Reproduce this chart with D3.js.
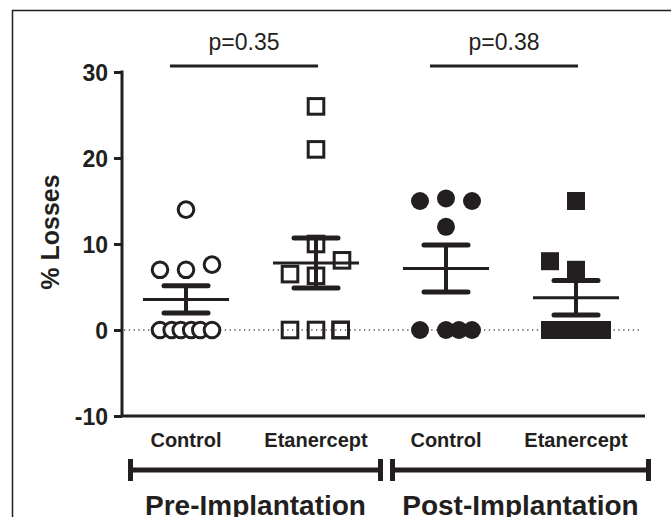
<!DOCTYPE html>
<html>
<head>
<meta charset="utf-8">
<script src="https://cdn.jsdelivr.net/npm/d3@7"></script>
<style>
  body { margin: 0; background: #fff; }
  svg { display: block; font-family: "Liberation Sans", Arial, sans-serif; }
</style>
</head>
<body>
<div id="chart"></div>
<script>
// values (% losses per animal)
const categories = ["Control", "Etanercept", "Control", "Etanercept"];
const phases = ["Pre-Implantation", "Post-Implantation"];
const pValues = ["p=0.35", "p=0.38"];
const yTicks = [-10, 0, 10, 20, 30];

const preControl = [14, 7, 7, 7.6, 0, 0, 0, 0, 0, 0];
const preEtanercept = [26, 21, 10, 8.1, 6.5, 6.3, 0, 0, 0, 0];
const postControl = [15, 15.3, 15, 12, 0, 0, 0, 0];
const postEtanercept = [15, 8, 7, 0, 0, 0, 0, 0];

// side-by-side slot of each point (how the scatter spreads equal values)
const preControlSlot = [0, -2, 0, 2, -2, -1.1, -0.4, 0.4, 1.1, 2];
const preEtanerceptSlot = [0, 0, 0, 2, -2, 0, -2, 0, 1.9, 1.9];
const postControlSlot = [-2, 0, 2, 0, -2, 0, 1, 2];
const postEtanerceptSlot = [0, -2, 0, -2, -1, 0, 1, 2];

const W = 671, H = 517;
const ink = "#231f20";

const groups = [
    {values: preControl, slot: preControlSlot, shape: "circle", filled: false},
    {values: preEtanercept, slot: preEtanerceptSlot, shape: "square", filled: false},
    {values: postControl, slot: postControlSlot, shape: "circle", filled: true},
    {values: postEtanercept, slot: postEtanerceptSlot, shape: "square", filled: true}
];

const svg = d3.select("#chart").append("svg")
    .attr("width", W)
    .attr("height", H);

// outer frame
svg.append("path")
    .attr("d", `M12.5,${H} V10.5 H${W}`)
    .attr("fill", "none")
    .attr("stroke", ink)
    .attr("stroke-width", 1.5);

const x = d3.scaleBand()
    .domain(d3.range(categories.length))
    .range([121, 641]);

const y = d3.scaleLinear()
    .domain([-10, 30])
    .range([416, 72]);

// y axis
const yAxis = svg.append("g")
    .attr("transform", "translate(122,0)")
    .call(d3.axisLeft(y).tickValues(yTicks).tickSize(8).tickPadding(6).tickFormat(d => String(d)));
yAxis.select(".domain").attr("stroke", ink).attr("stroke-width", 3).attr("d", `M0,${y(30) - 1.5}V${y(-10)}`);
yAxis.selectAll(".tick line").attr("stroke", ink).attr("stroke-width", 3);
yAxis.selectAll(".tick text")
    .attr("fill", ink)
    .attr("font-size", 23)
    .attr("font-weight", "bold")
    .attr("dy", "0.36em");

// x axis line
svg.append("line")
    .attr("x1", 122).attr("x2", 645)
    .attr("y1", y(-10)).attr("y2", y(-10))
    .attr("stroke", ink)
    .attr("stroke-width", 3);

// dotted zero line
svg.append("line")
    .attr("x1", 124).attr("x2", 642)
    .attr("y1", y(0)).attr("y2", y(0))
    .attr("stroke", "#555")
    .attr("stroke-width", 1.3)
    .attr("stroke-dasharray", "1.3,3.5");

svg.append("text")
    .attr("transform", "translate(59,232) rotate(-90)")
    .attr("text-anchor", "middle")
    .attr("font-size", 25)
    .attr("font-weight", "bold")
    .attr("fill", ink)
    .text("% Losses");

// category labels
svg.selectAll(".cat")
    .data(categories)
    .enter()
    .append("text")
    .attr("x", (d, i) => x(i) + x.bandwidth() / 2)
    .attr("y", 447)
    .attr("text-anchor", "middle")
    .attr("font-size", 20)
    .attr("font-weight", "bold")
    .attr("fill", ink)
    .text(d => d);

// phase brackets
const brackets = [[128, 383], [390, 651]];
brackets.forEach((b, i) => {
    const g = svg.append("g").attr("stroke", ink).attr("stroke-width", 5);
    g.append("line").attr("x1", b[0]).attr("x2", b[1]).attr("y1", 470).attr("y2", 470);
    g.append("line").attr("x1", b[0] + 2.5).attr("x2", b[0] + 2.5).attr("y1", 459).attr("y2", 481);
    g.append("line").attr("x1", b[1] - 2.5).attr("x2", b[1] - 2.5).attr("y1", 459).attr("y2", 481);
    svg.append("text")
        .attr("x", (b[0] + b[1]) / 2)
        .attr("y", 515)
        .attr("text-anchor", "middle")
        .attr("font-size", 28)
        .attr("font-weight", "bold")
        .attr("fill", ink)
        .text(phases[i]);
});

// significance lines with p values
[[0, 1], [2, 3]].forEach((pair, i) => {
    const x1 = x(pair[0]) + x.bandwidth() / 2 - 16;
    const x2 = x(pair[1]) + x.bandwidth() / 2 + 2;
    svg.append("line")
        .attr("x1", x1).attr("x2", x2)
        .attr("y1", 66).attr("y2", 66)
        .attr("stroke", ink)
        .attr("stroke-width", 3);
    svg.append("text")
        .attr("x", (x1 + x2) / 2)
        .attr("y", 50)
        .attr("text-anchor", "middle")
        .attr("font-size", 23)
        .attr("fill", ink)
        .text(pValues[i]);
});

// points
const step = 13;
groups.forEach((grp, gi) => {
    const cx = x(gi) + x.bandwidth() / 2;
    const pts = grp.values.map((v, j) => ({v: v, s: grp.slot[j]}));
    const g = svg.append("g");
    if (grp.shape === "circle") {
        g.selectAll("circle")
            .data(pts)
            .enter()
            .append("circle")
            .attr("cx", d => cx + d.s * step)
            .attr("cy", d => y(d.v))
            .attr("r", grp.filled ? 9 : 7.8)
            .attr("fill", grp.filled ? ink : "#fff")
            .attr("stroke", grp.filled ? "none" : ink)
            .attr("stroke-width", 3);
    } else {
        g.selectAll("rect")
            .data(pts)
            .enter()
            .append("rect")
            .attr("x", d => cx + d.s * step - (grp.filled ? 9 : 7.8))
            .attr("y", d => y(d.v) - (grp.filled ? 9 : 7.8))
            .attr("width", grp.filled ? 18 : 15.6)
            .attr("height", grp.filled ? 18 : 15.6)
            .attr("fill", grp.filled ? ink : (gi === 1 ? "none" : "#fff"))
            .attr("stroke", grp.filled ? "none" : ink)
            .attr("stroke-width", 3);
    }

    // mean and SEM
    const m = d3.mean(grp.values);
    const sem = d3.deviation(grp.values) / Math.sqrt(grp.values.length);
    const e = svg.append("g").attr("stroke", ink);
    e.append("line")
        .attr("x1", cx - 43).attr("x2", cx + 43)
        .attr("y1", y(m)).attr("y2", y(m))
        .attr("stroke-width", 3);
    e.append("line")
        .attr("x1", cx).attr("x2", cx)
        .attr("y1", y(m + sem)).attr("y2", y(m - sem))
        .attr("stroke-width", 4);
    [m + sem, m - sem].forEach(v => {
        e.append("line")
            .attr("x1", cx - 22).attr("x2", cx + 22)
            .attr("y1", y(v)).attr("y2", y(v))
            .attr("stroke-width", 5)
            .attr("stroke-linecap", "round");
    });
});
</script>
</body>
</html>
